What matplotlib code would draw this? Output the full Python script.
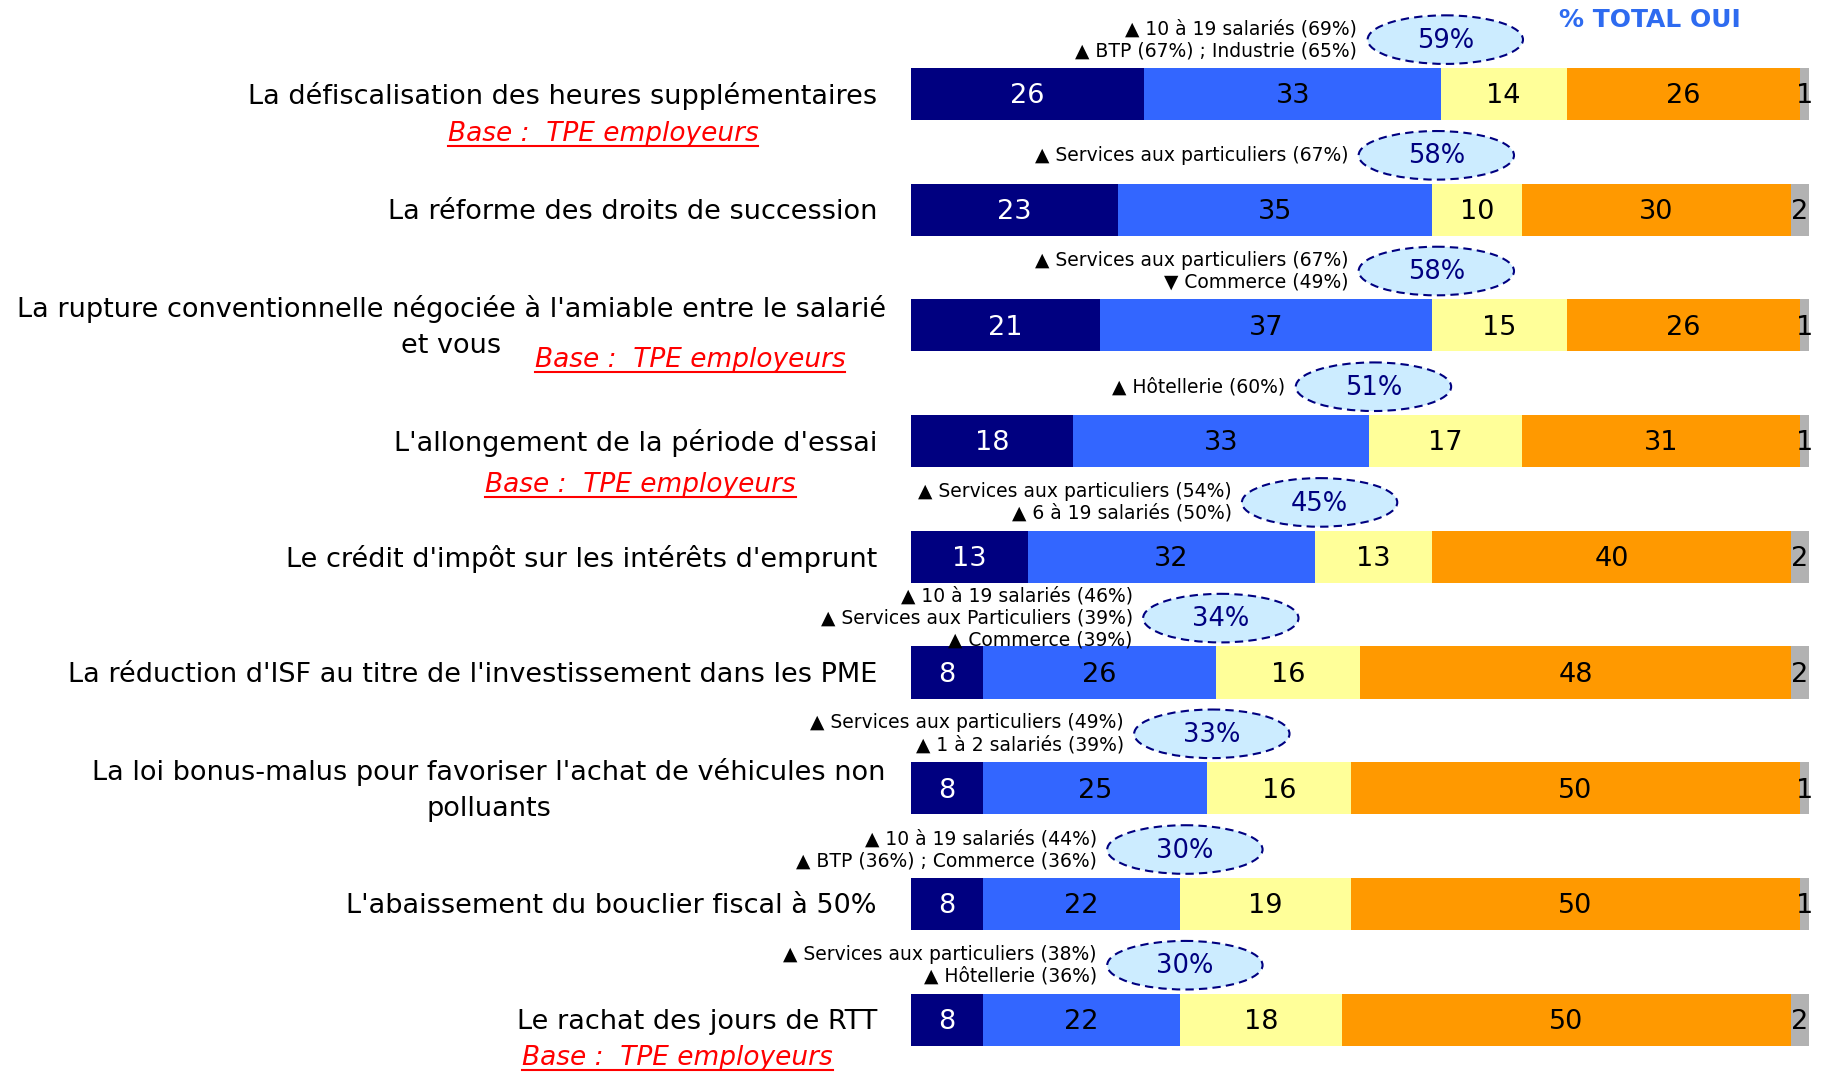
import matplotlib
matplotlib.use('Agg')
import matplotlib.pyplot as plt
from matplotlib.patches import Ellipse
from matplotlib.lines import Line2D

plt.rcParams['font.family'] = ['DejaVu Sans']

mesures = [
    "La défiscalisation des heures supplémentaires",
    "La réforme des droits de succession",
    "La rupture conventionnelle négociée à l'amiable entre le salarié\net vous",
    "L'allongement de la période d'essai",
    "Le crédit d'impôt sur les intérêts d'emprunt",
    "La réduction d'ISF au titre de l'investissement dans les PME",
    "La loi bonus-malus pour favoriser l'achat de véhicules non\npolluants",
    "L'abaissement du bouclier fiscal à 50%",
    "Le rachat des jours de RTT",
]

oui_tout_a_fait = [26, 23, 21, 18, 13, 8, 8, 8, 8]
oui_plutot = [33, 35, 37, 33, 32, 26, 25, 22, 22]
non_plutot_pas = [14, 10, 15, 17, 13, 16, 16, 19, 18]
non_pas_du_tout = [26, 30, 26, 31, 40, 48, 50, 50, 50]
nsp = [1, 2, 1, 1, 2, 2, 1, 1, 2]

sous_groupes = [
    ["▲ 10 à 19 salariés (69%)", "▲ BTP (67%) ; Industrie (65%)"],
    ["▲ Services aux particuliers (67%)"],
    ["▲ Services aux particuliers (67%)", "▼ Commerce (49%)"],
    ["▲ Hôtellerie (60%)"],
    ["▲ Services aux particuliers (54%)", "▲ 6 à 19 salariés (50%)"],
    ["▲ 10 à 19 salariés (46%)", "▲ Services aux Particuliers (39%)", "▲ Commerce (39%)"],
    ["▲ Services aux particuliers (49%)", "▲ 1 à 2 salariés (39%)"],
    ["▲ 10 à 19 salariés (44%)", "▲ BTP (36%) ; Commerce (36%)"],
    ["▲ Services aux particuliers (38%)", "▲ Hôtellerie (36%)"],
]

base_txt = "Base :  TPE employeurs"
# row -> (x, y offset) for the "Base" note
base_pos = {0: (-34.3, 0.35), 2: (-24.6, 0.30), 3: (-30.1, 0.38), 8: (-26.0, 0.33)}

couleurs = ['#000080', '#3366FF', '#FFFF99', '#FF9900', '#B2B2B2']
txt_col = ['white', 'black', 'black', 'black', 'black']

W, H = 1829, 1072
fig = plt.figure(figsize=(W / 100, H / 100), dpi=100)
ax = fig.add_axes([911 / W, 0, 898 / W, 1])
ax.set_xlim(0, 100)
ax.set_ylim(8.453, -0.8125)
ax.axis('off')
renderer = fig.canvas.get_renderer()

series = [oui_tout_a_fait, oui_plutot, non_plutot_pas, non_pas_du_tout, nsp]
n = len(mesures)
for i in range(n):
    left = 0
    for s, serie in enumerate(series):
        v = serie[i]
        ax.barh(i, v, left=left, height=0.45, color=couleurs[s], linewidth=0)
        ax.text(left + v / 2, i + 0.02, str(v), ha='center', va='center',
                fontsize=19.5, color=txt_col[s])
        left += v

    # label (two-line labels: second line centred under the first)
    lignes = mesures[i].split('\n')
    if len(lignes) == 1:
        ax.text(-3.8, i + 0.02, lignes[0], ha='right', va='center', fontsize=19.5)
    else:
        t1 = ax.text(-2.8, i - 0.14, lignes[0], ha='right', va='center',
                     fontsize=19.5)
        bb = t1.get_window_extent(renderer).transformed(ax.transData.inverted())
        ax.text((bb.x0 + bb.x1) / 2, i + 0.18, lignes[1], ha='center',
                va='center', fontsize=19.5)

    # total oui bubble
    total = oui_tout_a_fait[i] + oui_plutot[i]
    ey = i - 0.47
    ex = total + 0.5
    ax.add_patch(Ellipse((ex, ey), 17.3, 0.42, facecolor='#CCECFF',
                         edgecolor='#000080', linestyle=(0, (4, 2.5)),
                         linewidth=1.5, clip_on=False))
    ax.text(ex, ey + 0.01, f"{total}%", ha='center', va='center',
            fontsize=18.5, color='#000080')

    ax.text(ex - 9.8, ey, "\n".join(sous_groupes[i]), ha='right', va='center',
            fontsize=13.5, linespacing=1.2, multialignment='right')

ax.text(82.3, -0.64, "% TOTAL OUI", ha='center', va='center', fontsize=18,
        fontweight='bold', color='#2E6BF0')

bases = []
for r, (bx, dy) in base_pos.items():
    t = ax.text(bx, r + dy, base_txt, ha='center', va='center', fontsize=19,
                style='italic', color='#FF0000')
    bases.append(t)

fig.canvas.draw()
for t in bases:
    bb = t.get_window_extent(renderer).transformed(fig.transFigure.inverted())
    fig.add_artist(Line2D([bb.x0, bb.x1], [bb.y0 + 0.001, bb.y0 + 0.001],
                          color='#FF0000', linewidth=1.5))

fig.savefig('out.png', dpi=100)
